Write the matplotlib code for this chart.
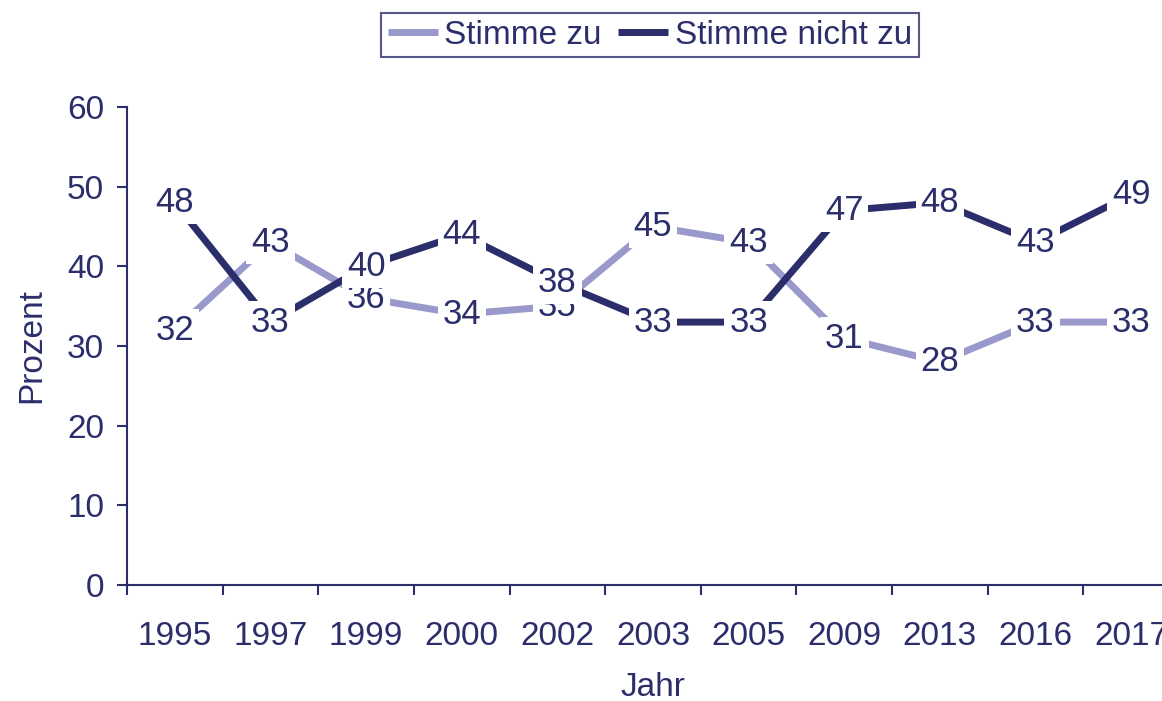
import matplotlib.pyplot as plt
from matplotlib.ticker import FixedLocator

years = ["1995", "1997", "1999", "2000", "2002", "2003", "2005", "2009", "2013", "2016", "2017"]
stimme_zu = [32, 43, 36, 34, 35, 45, 43, 31, 28, 33, 33]
stimme_nicht_zu = [48, 33, 40, 44, 38, 33, 33, 47, 48, 43, 49]

navy = "#2b2e6b"
light = "#9999cc"

plt.rcParams["font.family"] = ["Liberation Sans", "DejaVu Sans"]
plt.rcParams["font.size"] = 24

fig = plt.figure(figsize=(11.62, 7.01), dpi=100)
ax = fig.add_axes([127 / 1162, 116 / 701, 1052 / 1162, 478 / 701])

x = list(range(len(years)))
ax.plot(x, stimme_zu, color=light, lw=5, label="Stimme zu", solid_capstyle="butt")
ax.plot(x, stimme_nicht_zu, color=navy, lw=5, label="Stimme nicht zu", solid_capstyle="butt")

# white boxes behind labels hide the line, as in the original
box = dict(facecolor="white", edgecolor="none", pad=3.5)
for xi, v in zip(x, stimme_zu):
    ax.text(xi, v, str(v), ha="center", va="center", fontsize=25, color=navy, bbox=box, zorder=5)
for xi, v in zip(x, stimme_nicht_zu):
    ax.text(xi, v, str(v), ha="center", va="center", fontsize=25, color=navy, bbox=box, zorder=6)

ax.set_xlim(-0.5, len(years) - 0.5)
ax.set_ylim(0, 60)
ax.set_yticks(range(0, 61, 10))
ax.set_xticks(x)
ax.set_xticklabels(years)
ax.xaxis.set_minor_locator(FixedLocator([i - 0.5 for i in range(len(years) + 1)]))
ax.tick_params(axis="x", which="major", length=0, pad=26, colors=navy)
ax.tick_params(axis="x", which="minor", length=7.5, width=1.5, color=navy)
ax.tick_params(axis="y", length=7.5, width=1.5, pad=9, colors=navy)

for s in ["top", "right"]:
    ax.spines[s].set_visible(False)
for s in ["left", "bottom"]:
    ax.spines[s].set_color(navy)
    ax.spines[s].set_linewidth(1.5)

ax.set_xlabel("Jahr", color=navy, labelpad=14)
ax.set_ylabel("Prozent", color=navy, labelpad=14)

leg = fig.legend(loc="center", bbox_to_anchor=(650 / 1162, 1 - 35 / 701), ncol=2,
                 frameon=True, fancybox=False, handlelength=1.5, handletextpad=0.2,
                 columnspacing=0.5, borderpad=0.2, borderaxespad=0)
leg.get_frame().set_edgecolor(navy)
leg.get_frame().set_linewidth(1.5)
for t in leg.get_texts():
    t.set_color(navy)

fig.savefig("out.png", dpi=100)
